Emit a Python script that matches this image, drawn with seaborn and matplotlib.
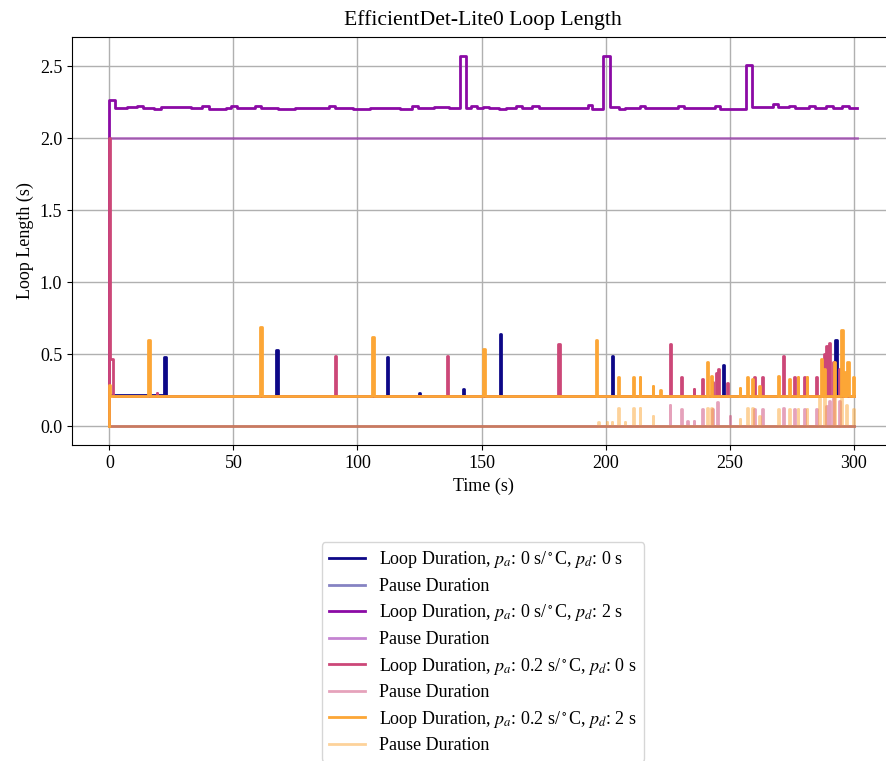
import matplotlib
matplotlib.use("Agg")
import matplotlib.pyplot as plt
import seaborn as sns
import numpy as np

# ---------------- data ----------------
BASE_FAST = 0.213          # typical loop duration when no pause (s)

# p_a = 0, p_d = 0  (navy)
navy_start_t = [0.0]
navy_start_v = [0.22]
navy_spike_t = [22.2, 67.3, 112.0, 125.0, 142.5, 157.3, 202.4, 247.2, 292.6]
navy_spike_v = [0.48, 0.53, 0.48, 0.23, 0.26, 0.64, 0.49, 0.43, 0.60]
navy_end = 300.0

# p_a = 0, p_d = 2  (purple) : step change points
purple_t = [0, 2.3, 7, 11, 13.5, 18, 21, 28, 33, 37.5,
            40, 47, 49, 51.5, 58.5, 61, 68, 75, 83, 88.5,
            91, 98, 105, 110, 117, 122, 124.5, 131, 137, 141.4,
            143.8, 145.8, 148, 150.5, 153, 157, 160, 164, 166.5, 170.5,
            173, 180, 188, 193, 194.6, 198.9, 201.6, 205.6, 208, 213.7,
            216, 223, 229, 231.5, 236, 244, 246, 256.7, 259.1, 267.3,
            269.5, 274, 276.5, 282, 284.5, 289, 291.5, 295.5, 298]
purple_v = [2.265, 2.21, 2.215, 2.228, 2.212, 2.205, 2.215, 2.218, 2.21, 2.228,
            2.206, 2.214, 2.224, 2.214, 2.228, 2.213, 2.206, 2.214, 2.21, 2.226,
            2.213, 2.206, 2.214, 2.213, 2.205, 2.228, 2.213, 2.215, 2.212, 2.575,
            2.21, 2.228, 2.212, 2.218, 2.214, 2.205, 2.214, 2.222, 2.213, 2.222,
            2.214, 2.212, 2.214, 2.234, 2.203, 2.57, 2.215, 2.206, 2.213, 2.222,
            2.212, 2.214, 2.224, 2.212, 2.214, 2.224, 2.205, 2.507, 2.218, 2.238,
            2.216, 2.226, 2.214, 2.224, 2.212, 2.222, 2.208, 2.226, 2.214]
purple_end = 301.2
purple_pause = 2.0

# p_a = 0.2, p_d = 0  (pink)
pink_start_t = [0.0, 0.15, 1.5]
pink_start_v = [2.0, 0.47, BASE_FAST]
pink_spike_t = [19.0, 91.0, 136.0, 181.0, 225.8, 230.6, 235.5, 239.0, 243.0, 244.5,
                245.5, 249.0, 260.0, 263.0, 271.5, 276.0, 280.0, 285.0, 288.0, 289.0,
                290.0, 291.5, 294.0]
pink_spike_v = [0.23, 0.49, 0.49, 0.57, 0.57, 0.34, 0.26, 0.33, 0.31, 0.37,
                0.40, 0.30, 0.34, 0.34, 0.49, 0.34, 0.34, 0.34, 0.50, 0.56,
                0.58, 0.45, 0.40]
pink_pause_t = [225.8, 230.6, 233.0, 235.5, 239.0, 243.0, 245.0, 250.0, 260.0, 263.0,
                271.5, 276.0, 280.0, 285.0, 289.0, 290.0, 291.5, 294.0]
pink_pause_v = [0.15, 0.12, 0.04, 0.04, 0.12, 0.12, 0.17, 0.07, 0.12, 0.12,
                0.13, 0.12, 0.12, 0.12, 0.14, 0.18, 0.20, 0.18]
pink_end = 300.0

# p_a = 0.2, p_d = 2  (orange)
orange_start_t = [0.0, 0.3]
orange_start_v = [0.29, BASE_FAST]
orange_spike_t = [15.7, 60.9, 106.0, 150.8, 196.0, 205.2, 211.0, 213.7, 219.0, 222.0,
                  241.0, 242.7, 254.0, 257.0, 259.0, 262.0, 269.4, 274.0, 277.4, 281.0,
                  286.7, 288.0, 292.0, 295.0, 296.4, 297.5, 299.7]
orange_spike_v = [0.60, 0.69, 0.62, 0.54, 0.60, 0.34, 0.34, 0.34, 0.28, 0.25,
                  0.45, 0.35, 0.27, 0.34, 0.33, 0.28, 0.35, 0.33, 0.34, 0.34,
                  0.47, 0.40, 0.45, 0.67, 0.38, 0.45, 0.34]
orange_pause_t = [197.0, 200.4, 202.5, 205.2, 207.7, 211.0, 213.7, 219.0, 241.0, 242.7,
                  254.0, 257.0, 259.0, 262.0, 269.4, 274.0, 277.4, 281.0, 286.0, 288.0,
                  292.0, 295.0, 297.0, 299.7]
orange_pause_v = [0.03, 0.03, 0.03, 0.13, 0.03, 0.13, 0.13, 0.07, 0.13, 0.13,
                  0.05, 0.13, 0.13, 0.07, 0.12, 0.12, 0.12, 0.12, 0.20, 0.20,
                  0.22, 0.22, 0.15, 0.12]
orange_end = 300.05

labels = [
    r"Loop Duration, $p_a$: 0 s/$^\circ$C, $p_d$: 0 s", "Pause Duration",
    r"Loop Duration, $p_a$: 0 s/$^\circ$C, $p_d$: 2 s", "Pause Duration",
    r"Loop Duration, $p_a$: 0.2 s/$^\circ$C, $p_d$: 0 s", "Pause Duration",
    r"Loop Duration, $p_a$: 0.2 s/$^\circ$C, $p_d$: 2 s", "Pause Duration",
]
colors = ["#0d0887", "#8b0aa5", "#cc4778", "#fca636"]


# ---------------- helpers ----------------
def loop_steps(start_t, start_v, spike_t, spike_v, base, end):
    xs = [0.0] + list(start_t)
    ys = [0.0] + list(start_v)
    for t, v in zip(spike_t, spike_v):
        xs += [t, t + v]
        ys += [v, base]
    xs.append(end)
    ys.append(ys[-1])
    return xs, ys


def pause_steps(p_t, p_v, base_loop, end):
    xs = [0.0]
    ys = [0.0]
    for t, p in zip(p_t, p_v):
        xs += [t, t + base_loop + p]
        ys += [p, 0.0]
    xs.append(end)
    ys.append(0.0)
    return xs, ys


# ---------------- figure ----------------
plt.rcParams["font.family"] = ["Liberation Serif", "DejaVu Serif"]
plt.rcParams["mathtext.fontset"] = "stix"
plt.rcParams["font.size"] = 13

W, H = 887, 761
fig = plt.figure(figsize=(W / 100, H / 100), dpi=100)
ax = fig.add_axes([72 / W, 1 - 445 / H, 822 / W, 408 / H])

series = []
series.append(loop_steps(navy_start_t, navy_start_v, navy_spike_t, navy_spike_v, BASE_FAST, navy_end))
series.append(([0.0, navy_end], [0.0, 0.0]))
series.append(([0.0] + purple_t + [purple_end], [0.0] + purple_v + [purple_v[-1]]))
series.append(([0.0, purple_end], [purple_pause, purple_pause]))
series.append(loop_steps(pink_start_t, pink_start_v, pink_spike_t, pink_spike_v, BASE_FAST, pink_end))
series.append(pause_steps(pink_pause_t, pink_pause_v, BASE_FAST, pink_end))
series.append(loop_steps(orange_start_t, orange_start_v, orange_spike_t, orange_spike_v, BASE_FAST, orange_end))
series.append(pause_steps(orange_pause_t, orange_pause_v, BASE_FAST, orange_end))

for i, (xs, ys) in enumerate(series):
    c = colors[i // 2]
    alpha = 1.0 if i % 2 == 0 else 0.5
    sns.lineplot(x=xs, y=ys, ax=ax, color=c, alpha=alpha, linewidth=2.0,
                 drawstyle="steps-post", estimator=None, sort=False,
                 label=labels[i])

ax.set_xticks([0, 50, 100, 150, 200, 250, 300])
ax.set_yticks([0.0, 0.5, 1.0, 1.5, 2.0, 2.5])
ax.grid(True, color="#b0b0b0", linewidth=1.0)
ax.set_axisbelow(True)
ax.set_xlabel("Time (s)")
ax.set_ylabel("Loop Length (s)")
ax.set_title("EfficientDet-Lite0 Loop Length", fontsize=15.6, pad=9)
ax.margins(x=0.05, y=0.05)

ax.legend(loc="upper center", bbox_to_anchor=(0.5, -(533 - 445) / 408),
          fontsize=13, handlelength=2.0, labelspacing=0.42)

fig.savefig("out.png", dpi=100)
